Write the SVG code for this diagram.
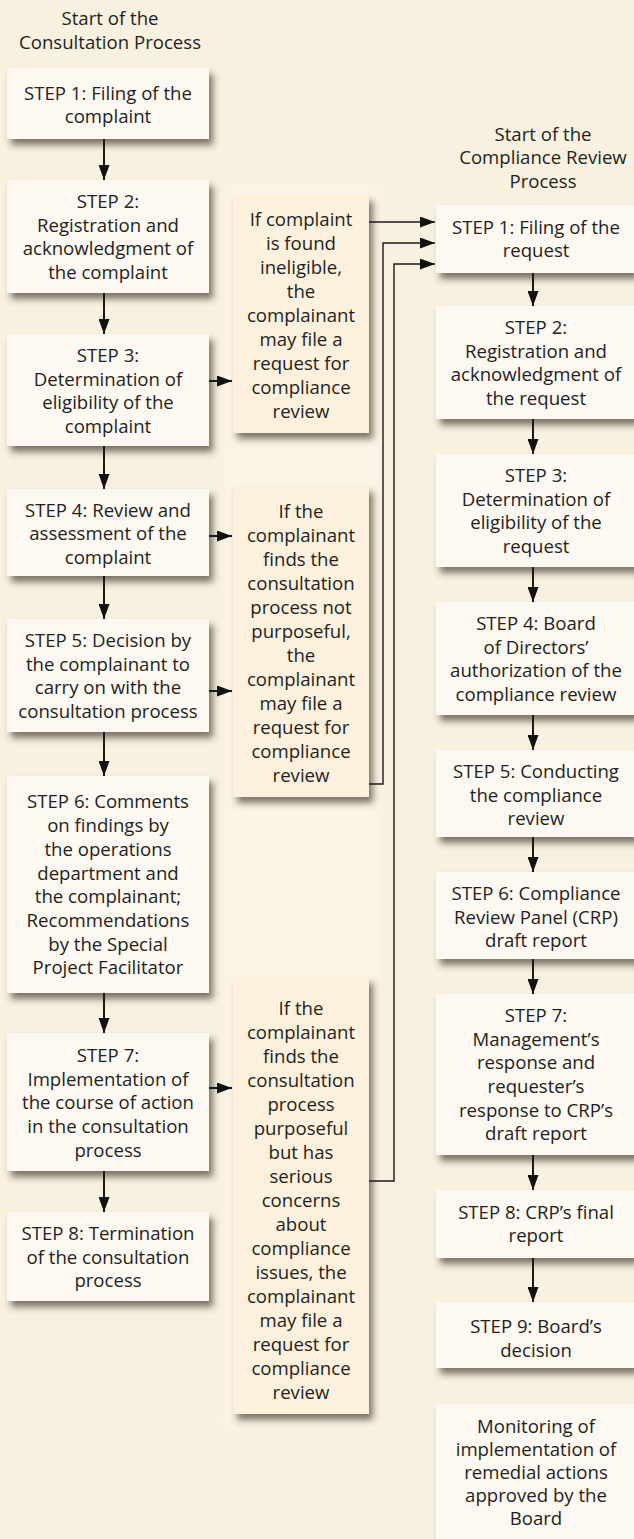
<svg xmlns="http://www.w3.org/2000/svg" width="634" height="1539" viewBox="0 0 634 1539">
<style>
text{font-family:"Open Sans","Noto Sans","Liberation Sans",sans-serif;font-size:18.6px;fill:#231f20;text-anchor:middle}
.box{fill:#fdf8f1;filter:url(#sh)}
.mid{fill:#fdf0dd;filter:url(#sh)}
.ln{fill:none;stroke:#1a1a1a;stroke-width:2}
.th{fill:none;stroke:#1a1a1a;stroke-width:1.4}
</style>
<defs>
<filter id="sh" x="-10%" y="-10%" width="130%" height="130%">
<feDropShadow dx="4" dy="6" stdDeviation="3.5" flood-color="#3b3020" flood-opacity="0.65"/>
</filter>
<filter id="glow"><feGaussianBlur stdDeviation="4"/></filter>
<marker id="ah" viewBox="0 0 15 11" refX="15" refY="5.5" markerWidth="15" markerHeight="11" markerUnits="userSpaceOnUse" orient="auto">
<path d="M0,0 L15,5.5 L0,11 Z" fill="#111"/>
</marker>
</defs>
<rect width="634" height="1539" fill="#f8f1e0"/>
<rect x="226" y="186" width="152" height="1238" fill="#fcf5e6" filter="url(#glow)"/>

<g id="headers">
<text x="110" y="25">Start of the</text>
<text x="110" y="49">Consultation Process</text>
<text x="543" y="141">Start of the</text>
<text x="543" y="164">Compliance Review</text>
<text x="543" y="188">Process</text>
</g>

<g id="L1"><rect class="box" x="7" y="68" width="202" height="71"/>
<text><tspan x="108" y="100">STEP 1: Filing of the</tspan><tspan x="108" y="123">complaint</tspan></text></g>
<g id="L2"><rect class="box" x="7" y="180" width="202" height="113"/>
<text><tspan x="108" y="208">STEP 2:</tspan><tspan x="108" y="232">Registration and</tspan><tspan x="108" y="255">acknowledgment of</tspan><tspan x="108" y="279">the complaint</tspan></text></g>
<g id="L3"><rect class="box" x="7" y="334" width="202" height="112"/>
<text><tspan x="108" y="362">STEP 3:</tspan><tspan x="108" y="386">Determination of</tspan><tspan x="108" y="409">eligibility of the</tspan><tspan x="108" y="433">complaint</tspan></text></g>
<g id="L4"><rect class="box" x="7" y="489" width="202" height="87"/>
<text><tspan x="108" y="517">STEP 4: Review and</tspan><tspan x="108" y="540">assessment of the</tspan><tspan x="108" y="564">complaint</tspan></text></g>
<g id="L5"><rect class="box" x="7" y="619" width="202" height="113"/>
<text><tspan x="108" y="647">STEP 5: Decision by</tspan><tspan x="108" y="671">the complainant to</tspan><tspan x="108" y="694">carry on with the</tspan><tspan x="108" y="718">consultation process</tspan></text></g>
<g id="L6"><rect class="box" x="7" y="776" width="202" height="217"/>
<text><tspan x="108" y="808">STEP 6: Comments</tspan><tspan x="108" y="832">on findings by</tspan><tspan x="108" y="856">the operations</tspan><tspan x="108" y="880">department and</tspan><tspan x="108" y="903">the complainant;</tspan><tspan x="108" y="927">Recommendations</tspan><tspan x="108" y="951">by the Special</tspan><tspan x="108" y="974">Project Facilitator</tspan></text></g>
<g id="L7"><rect class="box" x="7" y="1033" width="202" height="138"/>
<text><tspan x="108" y="1062">STEP 7:</tspan><tspan x="108" y="1086">Implementation of</tspan><tspan x="108" y="1109">the course of action</tspan><tspan x="108" y="1133">in the consultation</tspan><tspan x="108" y="1157">process</tspan></text></g>
<g id="L8"><rect class="box" x="7" y="1212" width="202" height="89"/>
<text><tspan x="108" y="1240">STEP 8: Termination</tspan><tspan x="108" y="1264">of the consultation</tspan><tspan x="108" y="1287">process</tspan></text></g>

<g id="MA"><rect class="mid" x="233" y="195" width="136" height="238"/>
<text><tspan x="301" y="226">If complaint</tspan><tspan x="301" y="250">is found</tspan><tspan x="301" y="274">ineligible,</tspan><tspan x="301" y="298">the</tspan><tspan x="301" y="322">complainant</tspan><tspan x="301" y="346">may file a</tspan><tspan x="301" y="370">request for</tspan><tspan x="301" y="394">compliance</tspan><tspan x="301" y="418">review</tspan></text></g>
<g id="MB"><rect class="mid" x="233" y="486" width="136" height="311"/>
<text><tspan x="301" y="518">If the</tspan><tspan x="301" y="542">complainant</tspan><tspan x="301" y="566">finds the</tspan><tspan x="301" y="590">consultation</tspan><tspan x="301" y="614">process not</tspan><tspan x="301" y="638">purposeful,</tspan><tspan x="301" y="662">the</tspan><tspan x="301" y="686">complainant</tspan><tspan x="301" y="710">may file a</tspan><tspan x="301" y="734">request for</tspan><tspan x="301" y="758">compliance</tspan><tspan x="301" y="782">review</tspan></text></g>
<g id="MC"><rect class="mid" x="233" y="977" width="136" height="437"/>
<text><tspan x="301" y="1015">If the</tspan><tspan x="301" y="1039">complainant</tspan><tspan x="301" y="1063">finds the</tspan><tspan x="301" y="1087">consultation</tspan><tspan x="301" y="1111">process</tspan><tspan x="301" y="1135">purposeful</tspan><tspan x="301" y="1159">but has</tspan><tspan x="301" y="1183">serious</tspan><tspan x="301" y="1207">concerns</tspan><tspan x="301" y="1231">about</tspan><tspan x="301" y="1255">compliance</tspan><tspan x="301" y="1279">issues, the</tspan><tspan x="301" y="1303">complainant</tspan><tspan x="301" y="1327">may file a</tspan><tspan x="301" y="1351">request for</tspan><tspan x="301" y="1375">compliance</tspan><tspan x="301" y="1399">review</tspan></text></g>

<g id="R1"><rect class="box" x="436" y="205" width="200" height="68"/>
<text><tspan x="536" y="234">STEP 1: Filing of the</tspan><tspan x="536" y="257">request</tspan></text></g>
<g id="R2"><rect class="box" x="436" y="306" width="200" height="113"/>
<text><tspan x="536" y="334">STEP 2:</tspan><tspan x="536" y="358">Registration and</tspan><tspan x="536" y="381">acknowledgment of</tspan><tspan x="536" y="405">the request</tspan></text></g>
<g id="R3"><rect class="box" x="436" y="454" width="200" height="113"/>
<text><tspan x="536" y="482">STEP 3:</tspan><tspan x="536" y="506">Determination of</tspan><tspan x="536" y="529">eligibility of the</tspan><tspan x="536" y="553">request</tspan></text></g>
<g id="R4"><rect class="box" x="436" y="602" width="200" height="113"/>
<text><tspan x="536" y="630">STEP 4: Board</tspan><tspan x="536" y="654">of Directors’</tspan><tspan x="536" y="677">authorization of the</tspan><tspan x="536" y="701">compliance review</tspan></text></g>
<g id="R5"><rect class="box" x="436" y="750" width="200" height="87"/>
<text><tspan x="536" y="778">STEP 5: Conducting</tspan><tspan x="536" y="802">the compliance</tspan><tspan x="536" y="825">review</tspan></text></g>
<g id="R6"><rect class="box" x="436" y="872" width="200" height="87"/>
<text><tspan x="536" y="900">STEP 6: Compliance</tspan><tspan x="536" y="924">Review Panel (CRP)</tspan><tspan x="536" y="947">draft report</tspan></text></g>
<g id="R7"><rect class="box" x="436" y="994" width="200" height="161"/>
<text><tspan x="536" y="1022">STEP 7:</tspan><tspan x="536" y="1046">Management’s</tspan><tspan x="536" y="1069">response and</tspan><tspan x="536" y="1093">requester’s</tspan><tspan x="536" y="1117">response to CRP’s</tspan><tspan x="536" y="1140">draft report</tspan></text></g>
<g id="R8"><rect class="box" x="436" y="1190" width="200" height="68"/>
<text><tspan x="536" y="1219">STEP 8: CRP’s final</tspan><tspan x="536" y="1242">report</tspan></text></g>
<g id="R9"><rect class="box" x="436" y="1302" width="200" height="66"/>
<text><tspan x="536" y="1333">STEP 9: Board’s</tspan><tspan x="536" y="1357">decision</tspan></text></g>
<g id="R10"><rect class="box" x="436" y="1404" width="200" height="145"/>
<text><tspan x="536" y="1433">Monitoring of</tspan><tspan x="536" y="1456">implementation of</tspan><tspan x="536" y="1479">remedial actions</tspan><tspan x="536" y="1502">approved by the</tspan><tspan x="536" y="1525">Board</tspan></text></g>

<g id="connectors">
<path class="ln" marker-end="url(#ah)" d="M104,139 V180"/>
<path class="ln" marker-end="url(#ah)" d="M104,293 V334"/>
<path class="ln" marker-end="url(#ah)" d="M104,446 V489"/>
<path class="ln" marker-end="url(#ah)" d="M104,576 V619"/>
<path class="ln" marker-end="url(#ah)" d="M104,732 V776"/>
<path class="ln" marker-end="url(#ah)" d="M104,993 V1033"/>
<path class="ln" marker-end="url(#ah)" d="M104,1171 V1212"/>
<path class="ln" marker-end="url(#ah)" d="M209,381 H232"/>
<path class="ln" marker-end="url(#ah)" d="M209,536 H232"/>
<path class="ln" marker-end="url(#ah)" d="M209,691 H232"/>
<path class="ln" marker-end="url(#ah)" d="M209,1088 H232"/>
<path class="th" marker-end="url(#ah)" d="M369,222 H435"/>
<path class="th" marker-end="url(#ah)" d="M369,784 H383 V243 H435"/>
<path class="th" marker-end="url(#ah)" d="M369,1181 H394 V264 H435"/>
<path class="ln" marker-end="url(#ah)" d="M533,273 V306"/>
<path class="ln" marker-end="url(#ah)" d="M533,419 V454"/>
<path class="ln" marker-end="url(#ah)" d="M533,567 V602"/>
<path class="ln" marker-end="url(#ah)" d="M533,715 V750"/>
<path class="ln" marker-end="url(#ah)" d="M533,837 V872"/>
<path class="ln" marker-end="url(#ah)" d="M533,959 V994"/>
<path class="ln" marker-end="url(#ah)" d="M533,1155 V1190"/>
<path class="ln" marker-end="url(#ah)" d="M533,1258 V1302"/>
</g>
</svg>
